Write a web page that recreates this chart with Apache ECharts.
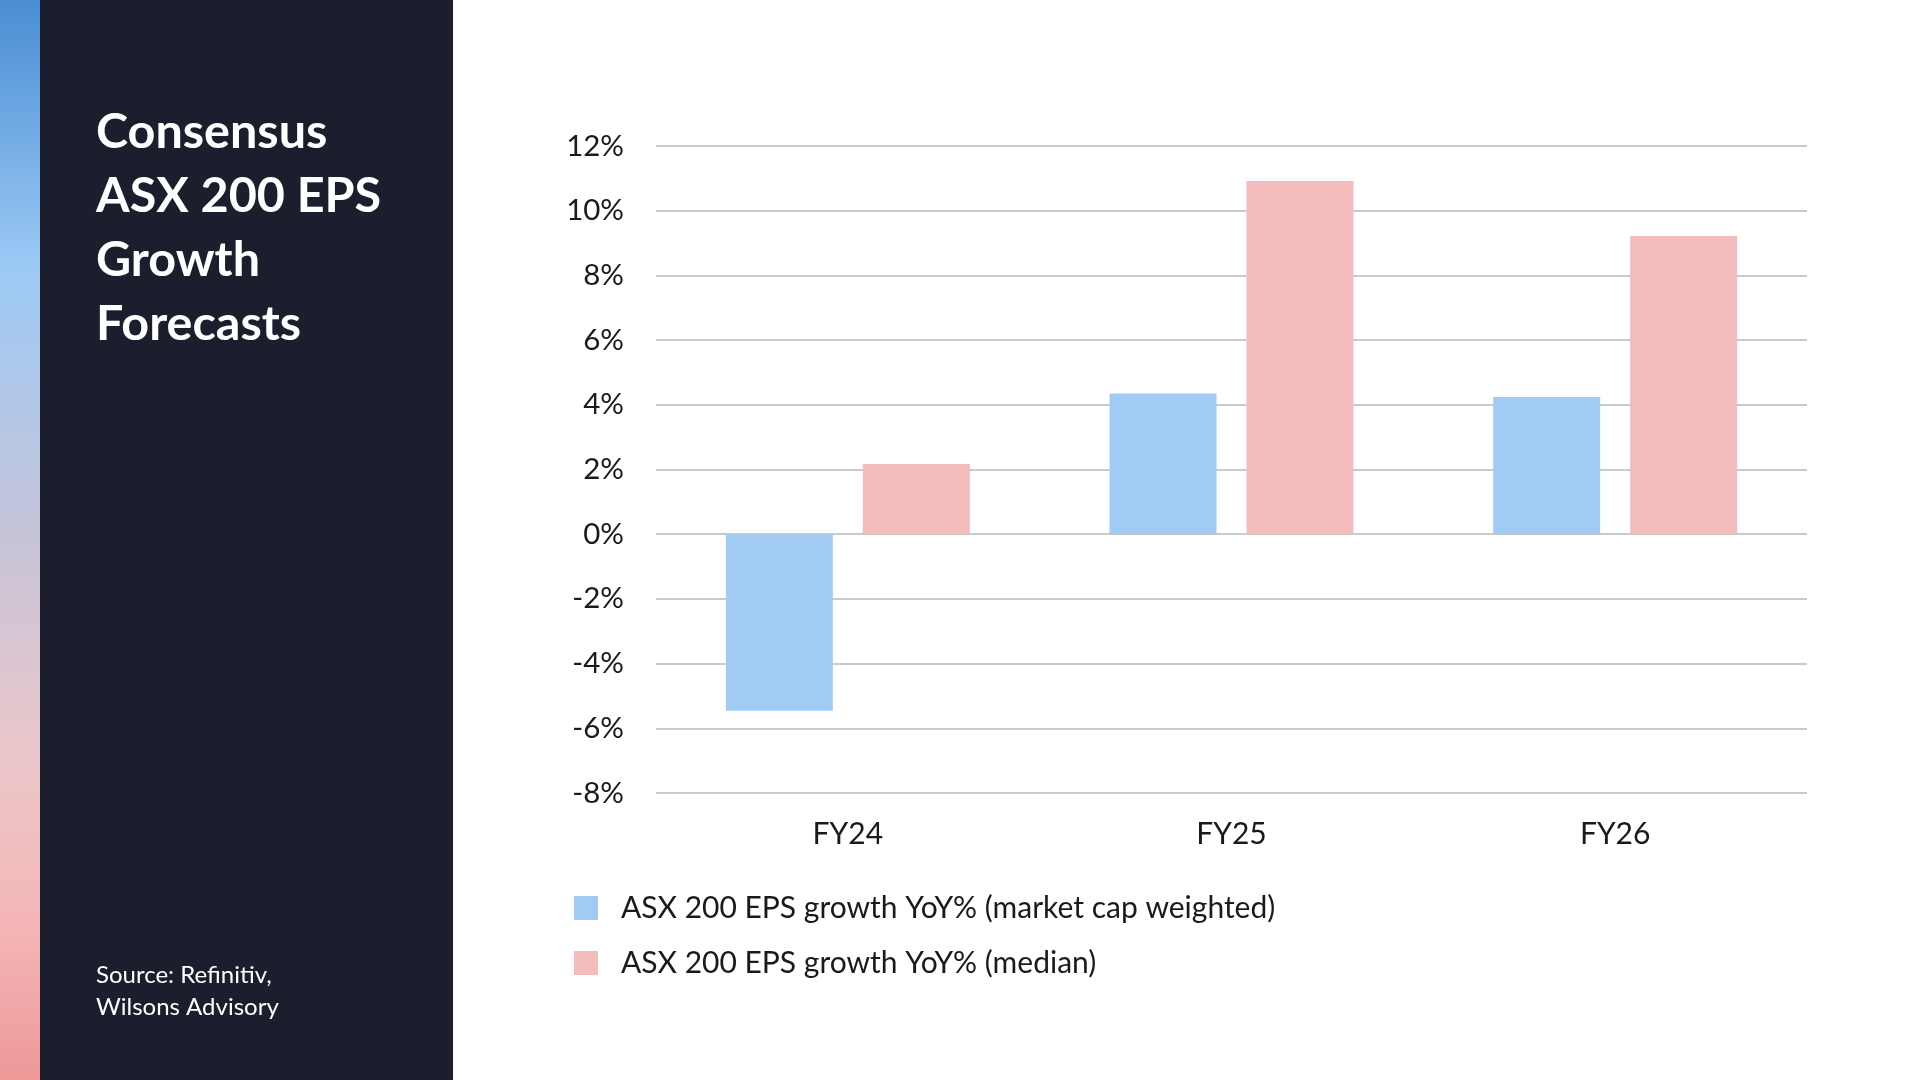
<!DOCTYPE html>
<html>
<head>
<meta charset="utf-8">
<script src="https://cdn.jsdelivr.net/npm/echarts@6/dist/echarts.min.js"></script>
<style>
html,body{margin:0;padding:0;background:#fff;}
#chart{width:1920px;height:1080px;}
</style>
</head>
<body>
<div id="chart"></div>
<script>
const categories = ['FY24', 'FY25', 'FY26'];
const seriesNames = ['ASX 200 EPS growth YoY% (market cap weighted)', 'ASX 200 EPS growth YoY% (median)'];
const weightedValues = [-5.46, 4.35, 4.24];
const medianValues = [2.17, 10.92, 9.22];
const titleLines = ['Consensus', 'ASX 200 EPS', 'Growth', 'Forecasts'];
const sourceLines = ['Source: Refinitiv,', 'Wilsons Advisory'];

const chart = echarts.init(document.getElementById('chart'));
const FONT = 'Lato, "Noto Sans", sans-serif';

chart.setOption({
  backgroundColor: '#ffffff',
  animation: false,
  textStyle: { fontFamily: FONT },
  graphic: [
    { type: 'rect', shape: { x: 0, y: 0, width: 40, height: 1080 }, style: {
      fill: new echarts.graphic.LinearGradient(0, 0, 0, 1, [
        { offset: 0, color: '#4a8dd3' },
        { offset: 0.25, color: '#9dcaf5' },
        { offset: 0.5, color: '#c7c4d8' },
        { offset: 0.7, color: '#ebc6c9' },
        { offset: 0.85, color: '#f4b7b8' },
        { offset: 1, color: '#ee9898' }
      ]) } },
    { type: 'rect', shape: { x: 40, y: 0, width: 413, height: 1080 }, style: { fill: '#1b1f2d' } }
  ],
  title: [
    { text: titleLines.join('\n'), left: 91, top: 95,
      textStyle: { color: '#ffffff', fontFamily: FONT, fontWeight: 'bold', fontSize: 48.5, lineHeight: 64 } },
    { text: sourceLines.join('\n'), left: 91, top: 954,
      textStyle: { color: '#ffffff', fontFamily: FONT, fontWeight: 'normal', fontSize: 24, lineHeight: 32 } }
  ],
  legend: {
    orient: 'vertical', left: 569, top: 888,
    itemWidth: 24, itemHeight: 24, itemGap: 25,
    icon: 'rect',
    data: seriesNames,
    textStyle: { fontFamily: FONT, fontSize: 30, color: '#1a1a1a', padding: [0, 0, 0, 18] }
  },
  grid: { left: 656, right: 113, top: 146, bottom: 287, containLabel: false },
  xAxis: {
    type: 'category', data: categories,
    axisLine: { show: false }, axisTick: { show: false },
    axisLabel: { color: '#1a1a1a', fontSize: 30, margin: 26, fontFamily: FONT }
  },
  yAxis: {
    type: 'value', min: -8, max: 12, interval: 2,
    axisLine: { show: false }, axisTick: { show: false },
    splitLine: { lineStyle: { color: '#b8b8b8', width: 1.5 } },
    axisLabel: { color: '#1a1a1a', fontSize: 29.5, margin: 32, fontFamily: FONT, formatter: '{value}%' }
  },
  series: [
    { name: seriesNames[0], type: 'bar', data: weightedValues, barWidth: 107, barGap: '28%',
      itemStyle: { color: '#a1cbf5' } },
    { name: seriesNames[1], type: 'bar', data: medianValues, barWidth: 107,
      itemStyle: { color: '#f4bbbd' } }
  ]
});
</script>
</body>
</html>
